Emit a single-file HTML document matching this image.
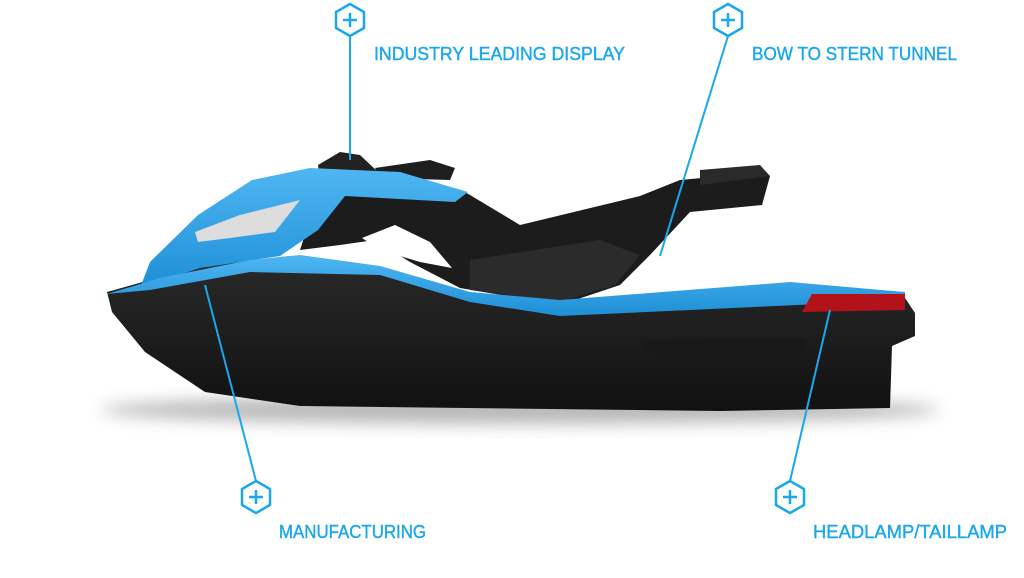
<!DOCTYPE html>
<html><head><meta charset="utf-8"><style>
html,body{margin:0;padding:0;background:#fff;width:1024px;height:578px;overflow:hidden}
svg{display:block}
text{font-family:"Liberation Sans",sans-serif;fill:#1aa7ec;font-size:18px;stroke:#1aa7ec;stroke-width:0.4}
</style></head><body>
<svg width="1024" height="578" viewBox="0 0 1024 578">
<defs>
<filter id="b" x="-20%" y="-50%" width="140%" height="200%"><feGaussianBlur stdDeviation="8"/></filter>
<linearGradient id="blue" x1="0" y1="0" x2="0" y2="1"><stop offset="0" stop-color="#4fb6f2"/><stop offset="1" stop-color="#1e8fd6"/></linearGradient>
<linearGradient id="hull" x1="0" y1="0" x2="0" y2="1"><stop offset="0" stop-color="#2a2a2a"/><stop offset="1" stop-color="#111"/></linearGradient>
</defs>
<ellipse cx="520" cy="410" rx="420" ry="14" fill="#999" filter="url(#b)" opacity="0.7"/>
<!-- hull -->
<path d="M107,292 L200,266 L290,256 L380,272 L470,298 L560,310 L790,298 L905,298 L915,313 L915,336 L892,346 L890,408 L720,411 L300,406 L205,392 L145,352 L112,312 Z" fill="url(#hull)"/>
<!-- frame / seat -->
<path d="M318,195 L465,192 L520,225 L640,196 L680,180 L755,173 L770,176 L762,205 L690,212 L650,255 L620,285 L560,305 L460,288 L410,262 L375,240 L340,245 L300,250 Z" fill="#1c1c1c"/>
<path d="M362,238 L395,225 L430,242 L452,268 L420,262 L380,250 Z" fill="#fff"/>
<path d="M470,260 L600,240 L640,255 L615,285 L560,302 L470,290 Z" fill="#2b2b2b"/>
<path d="M700,170 L760,165 L770,176 L700,185 Z" fill="#2a2a2a"/>
<!-- console -->
<path d="M318,165 L340,152 L360,155 L378,172 L320,178 Z" fill="#222"/>
<path d="M375,168 L430,160 L455,168 L450,180 L380,178 Z" fill="#1e1e1e"/>
<!-- front blue body -->
<path d="M150,262 L198,215 L252,180 L310,168 L400,172 L468,192 L455,202 L345,196 L318,230 L280,256 L200,268 L140,288 Z" fill="url(#blue)"/>
<path d="M195,232 L240,215 L300,200 L275,232 L230,238 L198,242 Z" fill="#ddd"/>
<!-- blue rail -->
<path d="M107,294 L160,278 L250,260 L300,255 L380,266 L470,292 L560,300 L790,282 L905,292 L905,300 L560,316 L470,302 L380,275 L250,272 L150,290 Z" fill="url(#blue)"/>
<!-- taillight -->
<path d="M812,294 L905,294 L905,310 L802,312 Z" fill="#b3121a"/>
<path d="M640,340 L805,338 L805,360 L660,362 Z" fill="#191919"/>
<!-- leaders -->
<g stroke="#1aa7ec" stroke-width="2" fill="none">
<line x1="350" y1="36" x2="350" y2="160"/>
<line x1="728" y1="36" x2="660" y2="256"/>
<line x1="256" y1="481" x2="205" y2="285"/>
<line x1="790" y1="481" x2="830" y2="310"/>
<g stroke-width="2.5">
<polygon points="350,4 364,12 364,28 350,36 336,28 336,12"/>
<polygon points="728,4 742,12 742,28 728,36 714,28 714,12"/>
<polygon points="256,481 270,489 270,505 256,513 242,505 242,489"/>
<polygon points="790,481 804,489 804,505 790,513 776,505 776,489"/>
<path d="M343,20h14M350,13v14M721,20h14M728,13v14M249,497h14M256,490v14M783,497h14M790,490v14"/>
</g>
</g>
<text x="374" y="60" textLength="251" lengthAdjust="spacingAndGlyphs">INDUSTRY LEADING DISPLAY</text>
<text x="752" y="60" textLength="205" lengthAdjust="spacingAndGlyphs">BOW TO STERN TUNNEL</text>
<text x="279" y="538" textLength="147" lengthAdjust="spacingAndGlyphs">MANUFACTURING</text>
<text x="813" y="538" textLength="194" lengthAdjust="spacingAndGlyphs">HEADLAMP/TAILLAMP</text>
</svg>
</body></html>
